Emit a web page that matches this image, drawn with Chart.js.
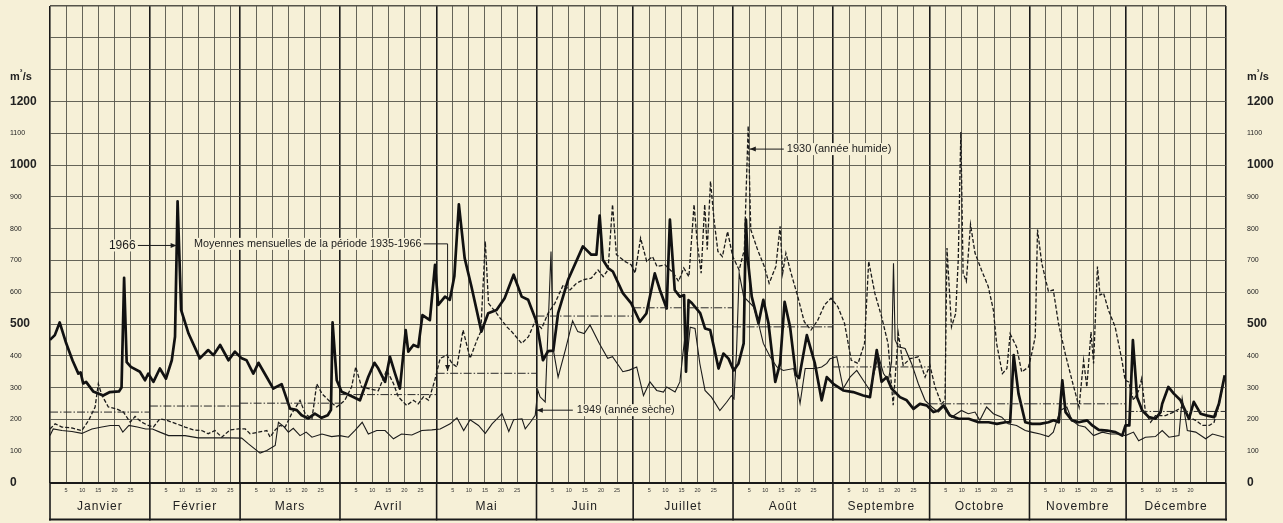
<!DOCTYPE html>
<html><head><meta charset="utf-8">
<style>html,body{margin:0;padding:0;background:#f6f0d7;}canvas{display:block;}</style>
<script src="https://cdn.jsdelivr.net/npm/chart.js@4.4.1/dist/chart.umd.min.js"></script>
</head><body>
<canvas id="c" width="1283" height="523"></canvas>
<script>
// ---- data ----
const monthNames = ['Janvier','Février','Mars','Avril','Mai','Juin','Juillet','Août','Septembre','Octobre','Novembre','Décembre'];
const monthLengths = [31,28,31,30,31,30,31,31,30,31,30,31];
const dayMarks = [5,10,15,20,25];
const monthlyMeans = [223,242,251,278,345,525,551,491,365,249,249,225];
const yTickValues = [0,100,200,300,400,500,600,700,800,900,1000,1100,1200,1300,1400,1500];
const yTickLabels = ['0','100','200','300','400','500','600','700','800','900','1000','1100','1200','','',''];
const yBigTicks = [0,500,1000,1200];

// [day of year, m3/s]
const series1966 = [[0,450],[1.5,465],[3,505],[5,440],[7,385],[8.8,344],[9.5,348],[10.3,313],[11.2,318],[13.4,288],[16.5,275],[18.6,286],[21.4,288],[22.2,300],[23,645],[23.8,380],[25.1,365],[27.9,350],[29.5,323],[30.5,344],[32.1,318],[34.1,360],[36,328],[37.8,386],[38.8,460],[39.6,886],[40.7,544],[43,470],[46.5,392],[49.1,418],[50.7,402],[52.8,434],[55.4,386],[57.4,413],[59.5,392],[61,386],[63.1,344],[64.7,378],[67.2,334],[69.3,297],[71.9,311],[74.5,234],[76.6,229],[78.1,213],[80.2,203],[82.2,218],[84.3,205],[86.2,213],[87.2,230],[87.7,505],[89,323],[90.5,287],[93,276],[96.2,260],[98.8,334],[100.7,378],[101.9,360],[104,318],[105.5,397],[107.1,344],[108.6,297],[110.4,481],[111.2,413],[112.8,434],[114.3,428],[115.6,528],[117.9,512],[119.5,686],[120.5,560],[122.6,586],[124.1,576],[125.5,650],[126.9,876],[128.7,707],[130.8,618],[133.9,476],[136,534],[138.6,544],[141.1,581],[143.9,655],[146.4,586],[148.4,576],[151,507],[153,386],[154.6,415],[156.2,416],[157.7,534],[160.8,639],[165.4,744],[168,718],[169.6,718],[170.6,841],[171.6,702],[173.2,676],[174.7,665],[177.8,597],[180.4,565],[183.1,507],[185.1,533],[187.7,659],[189.3,607],[191.4,549],[192.4,828],[193.9,607],[195.5,586],[196.8,591],[197.4,350],[198.2,575],[199.2,566],[201.8,534],[203.3,486],[204.9,481],[206.5,407],[207.5,360],[209,407],[210.6,391],[212.2,354],[213.7,376],[215.3,439],[216,828],[216.5,712],[217.8,586],[219.9,502],[221.4,576],[223,502],[225.1,318],[226.6,376],[228,570],[229.7,491],[231.5,340],[232.5,330],[234.9,465],[237.4,376],[239.5,260],[241.1,333],[243.1,312],[246.2,291],[249.3,286],[252.4,275],[254.5,270],[256.6,418],[258.1,318],[259.7,333],[261.2,297],[263.8,270],[265.9,260],[268,233],[270,249],[272.1,244],[274.2,223],[275.7,228],[277.3,244],[279.3,212],[282,202],[285.1,202],[288.2,191],[291.3,191],[293.9,186],[296.5,191],[298,191],[299.1,402],[300.6,281],[302.7,191],[304.8,186],[307.3,186],[309.9,191],[311.5,197],[313.1,191],[314.2,323],[315.2,223],[317.2,197],[319.3,191],[321.9,197],[323.5,181],[325.5,167],[328.1,165],[330.7,160],[332.8,149],[333.8,181],[335,181],[336.1,449],[337.4,270],[339,228],[341.1,207],[343.1,202],[344.7,223],[345.2,249],[347.1,302],[348.8,281],[350.9,260],[353.5,202],[355,255],[357.1,218],[359.2,212],[361.3,207],[362.8,249],[364.6,339]];

const series1930 = [[0,170],[1.6,186],[3.7,176],[6.8,173],[9.9,165],[12,197],[14,239],[15,312],[16.1,276],[18.1,239],[20.7,233],[22.8,223],[24.9,191],[26.4,209],[28.5,191],[30.5,181],[32.1,176],[34.1,202],[36.2,197],[39.3,186],[41.9,176],[44.5,167],[47.1,165],[49.1,155],[51.2,165],[53.3,144],[55.9,167],[58.5,170],[60.6,170],[62.1,155],[64.7,160],[67.3,165],[68.3,144],[69.9,167],[71.4,181],[73,176],[75,218],[77.6,260],[79.2,218],[81.3,202],[82.8,312],[84.4,281],[87,255],[89,239],[91.5,260],[93.6,302],[94.9,365],[96.7,302],[98.8,297],[101.9,290],[104.5,355],[106.6,313],[108.1,271],[110.7,244],[112.8,260],[114.3,249],[115.9,271],[117.5,260],[119.3,318],[121.1,392],[123.2,402],[124.8,376],[126.3,365],[128.2,481],[130.4,392],[132.5,449],[133.7,476],[135.1,760],[136.1,565],[138.2,539],[140.2,512],[141.8,491],[143.3,476],[146.4,439],[148.5,460],[150.5,507],[152.6,486],[154.6,534],[156.7,565],[159.3,623],[161.4,607],[163.4,628],[165.5,639],[168,644],[170.1,670],[171.7,649],[173.2,670],[174.6,876],[175.8,718],[178.4,697],[180.4,686],[181.6,660],[183.3,770],[185.2,697],[187,712],[188.4,681],[190.9,686],[193.5,660],[195.1,634],[196.7,676],[198.3,649],[199.9,876],[200.9,755],[202.1,660],[203.2,876],[204,734],[205,949],[206.1,828],[207.3,728],[208.7,712],[210.3,791],[211.9,712],[213.9,670],[215.5,734],[216.7,1123],[217.5,797],[219.6,734],[221.7,681],[223.2,628],[225.3,681],[226.6,807],[227.4,660],[228.4,723],[230,660],[232.1,586],[234.1,507],[236.2,481],[238.3,512],[240.4,560],[242.4,581],[244.5,555],[246.6,502],[248.7,386],[250.8,376],[252.8,439],[254.1,697],[256,597],[258.1,523],[260.1,439],[261.7,245],[263.3,470],[264.8,370],[266.9,391],[269.5,397],[271.6,333],[273.1,370],[274.7,302],[276.7,249],[277.8,260],[278.4,739],[279.8,491],[281.1,533],[281.9,702],[282.7,1104],[283.4,660],[284.4,634],[285.7,813],[287.1,723],[289.1,670],[291.2,618],[292.8,544],[293.8,439],[295.6,344],[297,360],[298,469],[300,428],[301.6,349],[303.7,365],[304.7,407],[305.8,460],[306.5,797],[307.8,692],[309.9,602],[311.4,607],[313,502],[315.1,407],[317.2,323],[319.4,239],[320.8,386],[321.8,302],[323.1,475],[323.9,376],[325.1,681],[325.9,591],[327,597],[328.5,544],[330.6,491],[332.7,386],[333.7,323],[334.8,318],[336.3,260],[337.9,291],[338.8,328],[340,223],[341.6,191],[343.1,212],[346.2,212],[348.8,223],[351.4,239],[353.5,207],[355.6,197],[357.7,181],[359.8,181],[361.3,191],[362.9,249],[364.5,333]];

const series1949 = [[0,149],[1,170],[3.7,165],[6.8,162],[9.9,156],[13,170],[16.1,176],[18.7,181],[21.4,181],[22.6,160],[24.5,181],[27.1,176],[29.7,170],[31.8,170],[34.1,160],[36.8,149],[39.9,149],[41.9,149],[46,142],[50.2,142],[55.4,142],[59.5,141],[61.6,123],[65.2,94],[67.3,102],[69.9,118],[70.9,191],[72.5,178],[74,160],[75.5,172],[77.6,149],[79.5,160],[81.3,144],[84.4,154],[87.4,146],[90,149],[92.6,144],[94.6,165],[96.9,191],[98.8,154],[101.4,165],[104,165],[106.6,139],[109.1,154],[112.3,151],[115.4,165],[118.5,167],[121.1,170],[124.2,186],[126.3,205],[128.4,165],[130.4,199],[133,181],[135.1,156],[137.2,186],[140.3,218],[142.4,162],[143.9,199],[146.5,202],[147.5,170],[149.1,191],[150.6,213],[151.4,292],[152.1,271],[153.7,255],[155.5,728],[156.2,420],[157.7,333],[160,420],[162.2,510],[163.8,476],[165.8,470],[167.6,497],[170.5,439],[173.1,392],[174.6,397],[177.8,350],[179.8,355],[182.1,365],[184.2,275],[186.2,318],[188.3,291],[190.4,286],[191.4,302],[194,286],[195.5,318],[196.4,402],[197.3,480],[197.9,412],[198.7,490],[200.2,486],[201.7,375],[203.3,291],[205.3,270],[207.9,228],[210,254],[211.5,275],[212.3,265],[213.1,418],[213.9,660],[215.3,586],[218.4,554],[219.9,502],[221.4,439],[223.5,397],[225.6,365],[227.6,354],[230.8,360],[232.8,250],[234.4,360],[237.5,360],[239.5,365],[241.1,376],[242.1,391],[244.2,397],[246.2,297],[248.3,333],[250.4,354],[252.4,323],[254.5,291],[257.1,402],[258.7,344],[260.2,323],[261.2,380],[261.8,691],[262.3,450],[263.3,428],[265.4,423],[267.4,376],[269.5,312],[271.6,260],[273.7,239],[275.7,223],[277.8,244],[279.8,207],[282.9,228],[285,218],[287.1,223],[288.6,197],[290.7,239],[292.8,218],[295.4,207],[297.4,186],[300,181],[302.7,165],[304.7,160],[307.3,154],[309.9,146],[311.4,160],[313.5,228],[315.6,239],[317.2,197],[319.3,181],[321.3,176],[323.9,149],[326.6,160],[329.1,154],[331.7,154],[333.8,149],[336.3,160],[337.9,133],[340,144],[343.1,146],[345.2,165],[347.3,144],[350.4,149],[351.4,266],[353,165],[355.6,160],[358.7,139],[360.8,154],[364.5,144]];

// ---- derived ----
const monthStarts = [];
monthLengths.reduce((acc, n) => { monthStarts.push(acc); return acc + n; }, 0);
const yearEnd = monthStarts[11] + monthLengths[11];
const xTickValues = [], xTickLabels = [];
monthStarts.forEach((m, i) => {
  xTickValues.push(m); xTickLabels.push('');
  dayMarks.forEach(d => { xTickValues.push(m + d); xTickLabels.push(i === 11 && d === 25 ? '' : String(d)); });
});
xTickValues.push(yearEnd); xTickLabels.push('');
const boundaries = monthStarts.concat([yearEnd]);

const meanPoints = [];
monthStarts.forEach((m, i) => {
  meanPoints.push({x: m, y: monthlyMeans[i]});
  meanPoints.push({x: m + monthLengths[i], y: monthlyMeans[i]});
  meanPoints.push({x: m + monthLengths[i], y: null});
});
const toXY = s => s.map(p => ({x: p[0], y: p[1]}));

const INK = '#1b1b1b';
const GRID = '#55534a';
const PAPER = '#f6f0d7';
const NARROW = '"Liberation Sans Narrow", "Liberation Sans", Arial, sans-serif';
const SANS = '"Liberation Sans", Arial, sans-serif';

function arrowHead(g, x, y, dir) {
  g.beginPath();
  if (dir === 'right') { g.moveTo(x, y); g.lineTo(x - 6, y - 2.5); g.lineTo(x - 6, y + 2.5); }
  if (dir === 'left') { g.moveTo(x, y); g.lineTo(x + 6, y - 2.5); g.lineTo(x + 6, y + 2.5); }
  if (dir === 'down') { g.moveTo(x, y); g.lineTo(x - 2.5, y - 6); g.lineTo(x + 2.5, y - 6); }
  g.closePath(); g.fill();
}
function label(g, text, x, y, align) {
  g.textAlign = align; g.textBaseline = 'middle';
  const w = g.measureText(text).width;
  const left = align === 'left' ? x : x - w;
  g.fillStyle = PAPER; g.fillRect(left - 2, y - 6, w + 4, 12);
  g.fillStyle = INK; g.fillText(text, x, y);
  return w;
}
function hline(g, x1, x2, y) { g.beginPath(); g.moveTo(x1, y); g.lineTo(x2, y); g.stroke(); }

const paperPlugin = {
  id: 'paper',
  beforeDraw(c) { const g = c.ctx; g.save(); g.fillStyle = PAPER; g.fillRect(0, 0, c.width, c.height); g.restore(); },
  afterDatasetsDraw(c) {
    const g = c.ctx, X = c.scales.x, Y = c.scales.y;
    g.save();
    g.strokeStyle = INK; g.fillStyle = INK; g.lineWidth = 1;
    // 1966
    g.font = '12px ' + SANS;
    let tx = X.getPixelForValue(39.3), ty = Y.getPixelForValue(747);
    hline(g, tx - 39, tx, ty); arrowHead(g, tx, ty, 'right');
    label(g, '1966', tx - 41, ty, 'right');
    // moyennes mensuelles
    g.font = '10.8px ' + SANS;
    const vx = X.getPixelForValue(123.4), vy = Y.getPixelForValue(752), vt = Y.getPixelForValue(352);
    g.beginPath(); g.moveTo(vx - 25, vy); g.lineTo(vx, vy); g.lineTo(vx, vt); g.stroke();
    arrowHead(g, vx, vt, 'down');
    label(g, 'Moyennes mensuelles de la période 1935-1966', vx - 26, vy, 'right');
    // 1930
    g.font = '11px ' + SANS;
    tx = X.getPixelForValue(217.2); ty = Y.getPixelForValue(1050);
    hline(g, tx, tx + 34, ty); arrowHead(g, tx, ty, 'left');
    label(g, '1930 (année humide)', tx + 37, ty, 'left');
    // 1949
    tx = X.getPixelForValue(151.1); ty = Y.getPixelForValue(229);
    hline(g, tx, tx + 36, ty); arrowHead(g, tx, ty, 'left');
    label(g, '1949 (année sèche)', tx + 40, ty, 'left');
    g.restore();
  },
  afterDraw(c) {
    const g = c.ctx, X = c.scales.x, Y = c.scales.y, a = c.chartArea;
    const top = a.bottom, bot = 519.5;
    g.save();
    g.strokeStyle = '#1a1a1a'; g.lineWidth = 1.6;
    boundaries.forEach(d => {
      const px = X.getPixelForValue(d);
      g.beginPath(); g.moveTo(px, top); g.lineTo(px, bot + 1); g.stroke();
    });
    g.lineWidth = 2.2; hline(g, a.left - 1, a.right + 1, bot);
    g.lineWidth = 1.8; hline(g, a.left, a.right, top);
    g.fillStyle = '#222'; g.font = '12px ' + NARROW; g.textAlign = 'center'; g.textBaseline = 'middle';
    try { g.letterSpacing = '1px'; } catch (e) {}
    monthNames.forEach((n, i) => {
      g.fillText(n, X.getPixelForValue(monthStarts[i] + monthLengths[i] / 2), 507);
    });
    try { g.letterSpacing = '0px'; } catch (e) {}
    // unit labels
    g.font = 'bold 11px ' + NARROW; g.textAlign = 'left';
    const uy = Y.getPixelForValue(1280);
    [10, 1247].forEach(x0 => {
      g.fillText('m', x0, uy + 1);
      const mw = g.measureText('m').width;
      g.font = 'bold 8px ' + NARROW; g.fillText('³', x0 + mw, uy - 4);
      g.font = 'bold 11px ' + NARROW; g.fillText('/s', x0 + mw + 3, uy + 1);
    });
    g.restore();
  }
};

const yTickFont = ctx => yBigTicks.includes(ctx.tick && ctx.tick.value)
  ? {family: NARROW, size: 12, weight: 'bold'} : {family: NARROW, size: 7};

new Chart(document.getElementById('c'), {
  type: 'line',
  data: {
    datasets: [
      {label: 'Moyennes mensuelles 1935-1966', data: meanPoints, borderColor: '#2a2a2a', borderWidth: 1, borderDash: [8, 2, 1.5, 2], pointRadius: 0, spanGaps: false, tension: 0},
      {label: '1949 (année sèche)', data: toXY(series1949), borderColor: INK, borderWidth: 1.1, pointRadius: 0, tension: 0},
      {label: '1930 (année humide)', data: toXY(series1930), borderColor: INK, borderWidth: 1.3, borderDash: [4, 2], pointRadius: 0, tension: 0},
      {label: '1966', data: toXY(series1966), borderColor: '#111', borderWidth: 2.7, pointRadius: 0, tension: 0, borderJoinStyle: 'round'}
    ]
  },
  options: {
    responsive: false, animation: false, devicePixelRatio: 1,
    layout: {padding: {top: 6, left: 10, right: 0, bottom: 0}},
    plugins: {legend: {display: false}, tooltip: {enabled: false}},
    scales: {
      x: {
        type: 'linear', min: 0, max: yearEnd,
        afterBuildTicks: s => { s.ticks = xTickValues.map(v => ({value: v})); },
        afterFit: s => { s.height = 40; s.paddingLeft = 0; s.paddingRight = 0; },
        ticks: {autoSkip: false, maxRotation: 0, padding: 4, color: '#333', font: {family: NARROW, size: 5.5},
                callback: (v, i) => xTickLabels[i]},
        grid: {drawTicks: false,
               color: ctx => boundaries.includes(ctx.tick && ctx.tick.value) ? '#1a1a1a' : GRID,
               lineWidth: ctx => boundaries.includes(ctx.tick && ctx.tick.value) ? 1.6 : 0.9},
        border: {display: false}
      },
      y: {
        position: 'left', min: 0, max: 1500,
        afterBuildTicks: s => { s.ticks = yTickValues.map(v => ({value: v})); },
        afterFit: s => { s.width = 40; s.paddingTop = 2; s.paddingBottom = 2; },
        ticks: {crossAlign: 'far', color: '#222', font: yTickFont, callback: (v, i) => yTickLabels[i]},
        grid: {drawTicks: false, color: GRID, lineWidth: ctx => (ctx.tick && ctx.tick.value === 1500) ? 1.4 : 0.9},
        border: {display: false}
      },
      y2: {
        position: 'right', min: 0, max: 1500,
        afterBuildTicks: s => { s.ticks = yTickValues.map(v => ({value: v})); },
        afterFit: s => { s.width = 57; s.paddingTop = 2; s.paddingBottom = 2; },
        ticks: {crossAlign: 'near', padding: 21, color: '#222', font: yTickFont, callback: (v, i) => yTickLabels[i]},
        grid: {display: false, drawTicks: false},
        border: {display: false}
      }
    }
  },
  plugins: [paperPlugin]
});
</script>
</body></html>
